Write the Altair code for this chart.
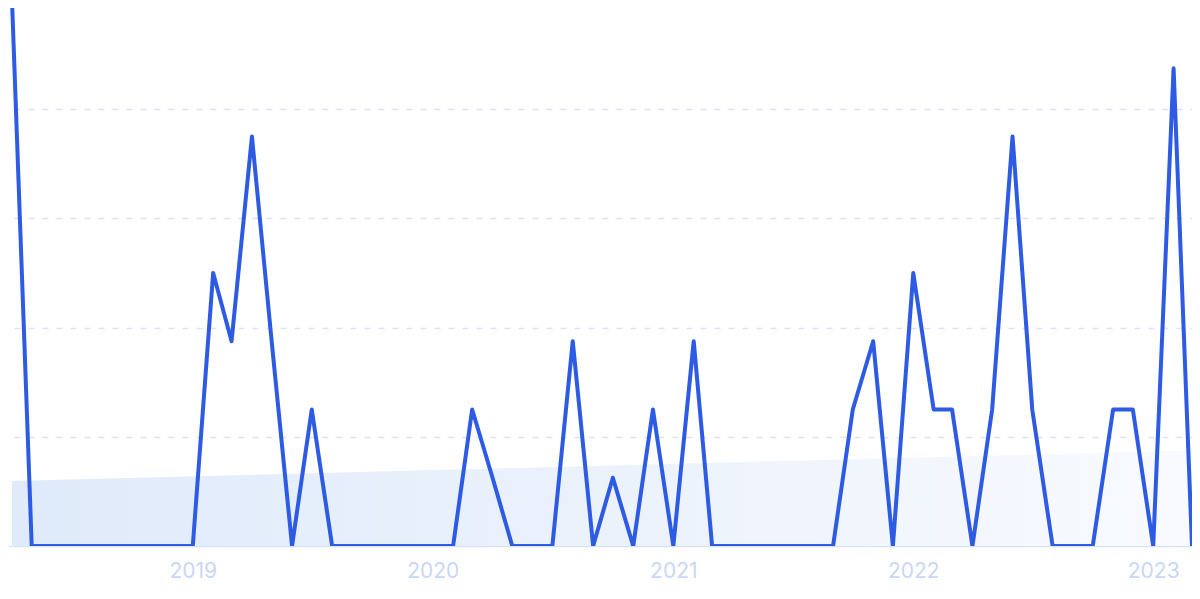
import altair as alt
import pandas as pd

# Monthly interest values (Apr 2018 .. Mar 2023)
months = [d.strftime("%Y-%m-%d") for d in pd.date_range("2018-04-01", periods=60, freq="MS")]
values = [
    100, 0, 0, 0, 0, 0, 0, 0, 0,                      # 2018 Apr-Dec
    0, 50, 37.5, 75, 37.5, 0, 25, 0, 0, 0, 0, 0,      # 2019
    0, 0, 25, 12.5, 0, 0, 0, 37.5, 0, 12.5, 0, 25,    # 2020
    0, 37.5, 0, 0, 0, 0, 0, 0, 0, 25, 37.5, 0,        # 2021
    50, 25, 25, 0, 25, 75, 25, 0, 0, 0, 25, 25,       # 2022
    0, 87.5, 0,                                       # 2023 Jan-Mar
]
trend_dates = ["2018-04-01", "2023-03-01"]
trend_values = [11.9, 17.5]
year_ticks = [2019, 2020, 2021, 2022, 2023]

df = pd.DataFrame({"date": months, "value": values})
trend = pd.DataFrame({"date": trend_dates, "value": trend_values})

x_scale = alt.Scale(
    type="utc",
    domain=[
        alt.DateTime(year=2018, month=3, date=25, hours=22, utc=True),
        alt.DateTime(year=2023, month=3, date=1, hours=0, utc=True),
    ],
)
y_scale = alt.Scale(domain=[0, 98.53], nice=False, zero=True)

x_axis = alt.Axis(
    title=None,
    values=[alt.DateTime(year=y, month=1, date=1, utc=True) for y in year_ticks],
    format="%Y",
    formatType="utc",
    labelColor="#cad6f5",
    labelFont="Inter",
    labelFontSize=21,
    labelPadding=14,
    ticks=False,
    grid=False,
    domain=True,
    domainColor="#d6e2f8",
    domainWidth=1.5,
)
y_axis = alt.Axis(
    title=None,
    labels=False,
    ticks=False,
    domain=False,
    values=[20, 40, 60, 80],
    grid=True,
    gridColor="#dbe3f9",
    gridDash=[6, 8],
    gridDashOffset=8,
    gridWidth=1.5,
)

area = alt.Chart(trend).mark_area(
    color=alt.Gradient(
        gradient="linear",
        stops=[
            alt.GradientStop(color="#dfeafa", offset=0),
            alt.GradientStop(color="#f8fafe", offset=1),
        ],
        x1=0, x2=1, y1=0, y2=0,
    ),
).encode(
    x=alt.X("date:T", scale=x_scale, axis=x_axis),
    y=alt.Y("value:Q", scale=y_scale, axis=y_axis),
)

line = alt.Chart(df).mark_line(
    color="#2d5be3",
    strokeWidth=4,
    strokeJoin="round",
    strokeCap="round",
    clip=True,
).encode(
    x=alt.X("date:T", scale=x_scale, axis=x_axis),
    y=alt.Y("value:Q", scale=y_scale, axis=y_axis),
)

chart = alt.layer(area, line).properties(
    width=1184,
    height=538,
    padding=0,
    background="white",
).configure_view(stroke=None)

chart.save("out.html", embed_options={"renderer": "svg", "actions": False})
